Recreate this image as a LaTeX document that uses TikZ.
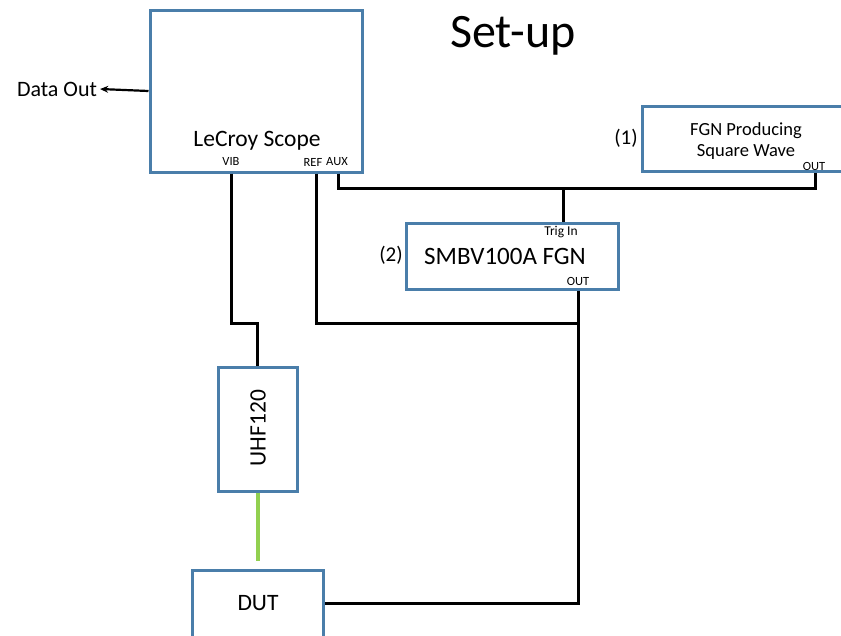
\documentclass[tikz,border=0pt]{standalone}
\usepackage{fontspec}
\setmainfont{Carlito}
\usetikzlibrary{arrows.meta}
\definecolor{boxblue}{RGB}{74,126,170}
\definecolor{cablegreen}{RGB}{146,208,80}
\newcommand{\fs}[1]{\fontsize{#1}{#1}\selectfont}
\begin{document}
\begin{tikzpicture}[x=1pt,y=-1pt,
  box/.style={draw=boxblue,line width=3pt,fill=white,inner sep=0pt},
  wire/.style={draw=black,line width=3pt},
  port/.style={inner sep=0pt,font=\fs{12.5}},
  big/.style={inner sep=0pt,font=\fs{23.5}}]
\useasboundingbox (0,0) rectangle (841,635);
% boxes
\node[box,minimum width=212pt,minimum height=162pt] (scope) at (256,91) {};
\node[big] (scopelbl) at (257,141) {LeCroy Scope};
\node[port] (vib) at (231,161) {VIB};
\node[port] (ref) at (313,162) {REF};
\node[port] (aux) at (337,162) {AUX};
\node[box,minimum width=203pt,minimum height=65pt] (fgn1) at (743.5,138.5) {};
\node[inner sep=0pt,font=\fs{18.5},align=center] (fgn1lbl) at (746,141) {FGN Producing\\[3pt]Square Wave};
\node[port] (out1) at (814,166) {OUT};
\node[inner sep=0pt,font=\fs{21}] (n1) at (626,138) {(1)};
\node[box,minimum width=212pt,minimum height=66pt] (fgn2) at (512,256) {};
\node[port,font=\fs{13.5}] (trig) at (561,232) {Trig In};
\node[inner sep=0pt,font=\fs{25}] (fgn2lbl) at (505,256) {SMBV100A FGN};
\node[port] (out2) at (578,281) {OUT};
\node[inner sep=0pt,font=\fs{21}] (n2) at (391,255) {(2)};
\node[box,minimum width=79pt,minimum height=124pt] (uhf) at (257.5,429) {};
\node[big,rotate=90] (uhflbl) at (258,428) {UHF120};
\node[box,minimum width=131pt,minimum height=80pt] (dut) at (257.5,610) {};
\node[big] (dutlbl) at (258,603) {DUT};
\node[inner sep=0pt,font=\fs{48}] (settitle) at (513,36) {Set-up};
\node[inner sep=0pt,font=\fs{22}] (dataout) at (57,89) {Data Out};
% helper coordinates
\coordinate (rowbus) at (0,188);
\coordinate (rowlow) at (0,323);
\coordinate (pvib) at (231,0);
\coordinate (pref) at (316,0);
\coordinate (paux) at (338,0);
\coordinate (pout1) at (815,0);
\coordinate (ptrig) at (563,0);
\coordinate (pout2) at (578,0);
\coordinate (dutport) at (dut.east |- dutlbl);
% wires
\draw[wire] (pvib |- scope.south) -- (pvib |- rowlow) -| (uhf.north);
\draw[wire] (pref |- scope.south) |- (pout2 |- rowlow);
\draw[wire] (paux |- scope.south) |- (pout1 |- rowbus) -- (pout1 |- fgn1.south);
\draw[wire] (ptrig |- rowbus) -- (ptrig |- fgn2.north);
\draw[wire] (pout2 |- fgn2.south) |- (dutport);
\draw[draw=cablegreen,line width=4pt] (uhf.south) -- ++(0,68);
\draw[line width=2.2pt,-{Stealth[length=8pt,width=7pt]}] (scope.west) -- ([xshift=3pt]dataout.east);
\end{tikzpicture}
\end{document}
